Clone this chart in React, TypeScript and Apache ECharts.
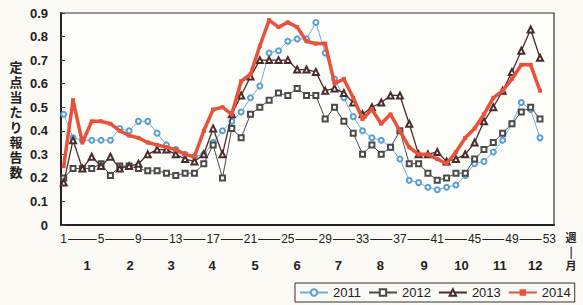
import React, { useEffect, useRef } from "react";
import * as echarts from "echarts";

const seriesNames = ["2011", "2012", "2013", "2014"];
const weekTicks = [1, 5, 9, 13, 17, 21, 25, 29, 33, 37, 41, 45, 49, 53];
const monthLabels = ["1", "2", "3", "4", "5", "6", "7", "8", "9", "10", "11", "12"];
const monthPositions = [3.5, 8.1, 12.5, 16.9, 21.5, 26, 30.4, 34.9, 39.6, 43.6, 47.7, 51.5];
const yTitle = "定点当たり報告数";
const unitChars = ["週", "|", "月"];

const v2011 = [
  0.47, 0.37, 0.36, 0.36, 0.36, 0.36, 0.41, 0.40, 0.44, 0.44,
  0.39, 0.34, 0.32, 0.30, 0.29, 0.30, 0.35, 0.40, 0.44, 0.48,
  0.54, 0.59, 0.73, 0.74, 0.78, 0.79, 0.79, 0.86, 0.73, 0.62,
  0.54, 0.46, 0.40, 0.37, 0.36, 0.33, 0.28, 0.19, 0.18, 0.16,
  0.15, 0.16, 0.17, 0.21, 0.26, 0.27, 0.31, 0.36, 0.43, 0.52, 0.49, 0.37,
];
const v2012 = [
  0.20, 0.24, 0.24, 0.24, 0.26, 0.21, 0.25, 0.25, 0.24, 0.23,
  0.23, 0.22, 0.21, 0.22, 0.22, 0.26, 0.34, 0.20, 0.41, 0.37,
  0.47, 0.50, 0.53, 0.56, 0.55, 0.58, 0.55, 0.55, 0.45, 0.50,
  0.44, 0.39, 0.30, 0.34, 0.30, 0.33, 0.40, 0.26, 0.26, 0.22,
  0.19, 0.20, 0.22, 0.22, 0.28, 0.32, 0.35, 0.39, 0.43, 0.48, 0.50, 0.45,
];
const v2013 = [
  0.18, 0.36, 0.24, 0.29, 0.25, 0.29, 0.24, 0.25, 0.26, 0.30,
  0.32, 0.32, 0.30, 0.28, 0.27, 0.30, 0.41, 0.30, 0.47, 0.55,
  0.63, 0.70, 0.70, 0.70, 0.70, 0.66, 0.66, 0.65, 0.57, 0.58,
  0.56, 0.52, 0.47, 0.50, 0.52, 0.55, 0.55, 0.43, 0.30, 0.30,
  0.31, 0.27, 0.28, 0.30, 0.35, 0.44, 0.50, 0.57, 0.65, 0.74, 0.83, 0.71,
];
const v2014 = [
  0.25, 0.53, 0.35, 0.44, 0.44, 0.43, 0.40, 0.38, 0.37, 0.35,
  0.34, 0.33, 0.32, 0.30, 0.29, 0.40, 0.49, 0.50, 0.47, 0.61,
  0.64, 0.76, 0.87, 0.84, 0.86, 0.84, 0.78, 0.77, 0.77, 0.60,
  0.62, 0.54, 0.45, 0.49, 0.43, 0.47, 0.40, 0.33, 0.30, 0.30,
  0.28, 0.26, 0.31, 0.37, 0.41, 0.47, 0.54, 0.57, 0.62, 0.68, 0.68, 0.57,
];

const BG = "#fbfaf4";
const FONT = "'Liberation Sans', Arial, sans-serif";
const CJK = "'Noto Sans CJK JP', sans-serif";

function toPoints(vals: number[]) {
  return vals.map((v, i) => [i + 1, v]);
}

export default function App() {
  const ref = useRef<HTMLDivElement>(null);
  useEffect(() => {
    if (!ref.current) return;
    const chart = echarts.init(ref.current, undefined, { renderer: "svg" });
    const xBase = { type: "value", min: 0.71, max: 53.5, gridIndex: 0, splitLine: { show: false } };
    const titleTexts = yTitle.split("").map((ch, i) => ({
      type: "text",
      x: 16,
      y: 66 + i * 15,
      style: {
        text: ch,
        fontSize: 13,
        fontWeight: "bold",
        fill: "#222",
        align: "center",
        verticalAlign: "middle",
        fontFamily: CJK,
      },
    }));
    const unitTexts = unitChars.map((ch, i) => ({
      type: "text",
      x: 571,
      y: 237 + i * 14,
      style: {
        text: ch,
        fontSize: 11,
        fontWeight: "bold",
        fill: "#222",
        align: "center",
        verticalAlign: "middle",
        fontFamily: CJK,
      },
    }));
    chart.setOption({
      animation: false,
      backgroundColor: BG,
      textStyle: { fontFamily: FONT },
      grid: {
        left: 61, right: 29, top: 13, bottom: 80,
        show: true, borderColor: "#333", borderWidth: 1.2, backgroundColor: "#fdfdf9",
      },
      xAxis: [
        {
          ...xBase,
          position: "bottom",
          axisLine: { show: true, lineStyle: { color: "#222", width: 2 } },
          axisTick: { show: false },
          axisLabel: { show: false },
        },
        {
          ...xBase,
          position: "bottom",
          offset: 14,
          axisLine: { show: true, onZero: false, lineStyle: { color: "#222", width: 1.2 } },
          axisTick: { show: false },
          axisLabel: {
            customValues: weekTicks,
            margin: 0,
            verticalAlign: "middle",
            color: "#222",
            fontSize: 12,
            fontFamily: FONT,
            backgroundColor: BG,
            padding: [0, 1],
            formatter: (v: number) => String(Math.round(v)),
          },
        },
        {
          ...xBase,
          position: "bottom",
          offset: 40,
          axisLine: { show: false },
          axisTick: { show: false },
          axisLabel: {
            customValues: monthPositions,
            margin: 0,
            verticalAlign: "middle",
            color: "#222",
            fontSize: 13,
            fontWeight: "bold",
            fontFamily: FONT,
            formatter: (v: number) => {
              const i = monthPositions.findIndex((p) => Math.abs(p - v) < 1e-6);
              return i >= 0 ? monthLabels[i] : "";
            },
          },
        },
      ],
      yAxis: {
        type: "value",
        min: 0,
        max: 0.9,
        interval: 0.1,
        axisLine: { show: true, lineStyle: { color: "#222", width: 2 } },
        axisTick: { show: true, inside: true, length: 4, lineStyle: { color: "#444" } },
        splitLine: { show: false },
        axisLabel: { color: "#222", fontSize: 13, fontWeight: "bold", margin: 13, fontFamily: FONT },
      },
      legend: {
        data: seriesNames,
        left: 295,
        right: 0,
        top: 283,
        padding: [3, 4],
        itemGap: 7,
        itemWidth: 28,
        itemHeight: 8,
        borderColor: "#333",
        borderWidth: 1,
        backgroundColor: BG,
        textStyle: { color: "#222", fontSize: 13, fontFamily: FONT },
      },
      graphic: [...titleTexts, ...unitTexts],
      series: [
        {
          name: "2011", type: "line", data: toPoints(v2011),
          symbol: "emptyCircle", symbolSize: 5,
          lineStyle: { color: "#6eaed8", width: 1 },
          itemStyle: { color: "#5a9fd0", borderWidth: 1.2 },
          z: 2,
        },
        {
          name: "2012", type: "line", data: toPoints(v2012),
          symbol: "emptyRect", symbolSize: 5,
          lineStyle: { color: "#4a4a4a", width: 1 },
          itemStyle: { color: "#4a4a4a", borderWidth: 1.2 },
          z: 3,
        },
        {
          name: "2013", type: "line", data: toPoints(v2013),
          symbol: "emptyTriangle", symbolSize: 6,
          lineStyle: { color: "#4a2c2c", width: 1.3 },
          itemStyle: { color: "#4a2c2c", borderWidth: 1.2 },
          z: 4,
        },
        {
          name: "2014", type: "line", data: toPoints(v2014),
          symbol: "rect", symbolSize: 4,
          lineStyle: { color: "#e8523c", width: 3.5 },
          itemStyle: { color: "#e8523c" },
          z: 5,
        },
      ],
    });
    return () => chart.dispose();
  }, []);
  return (
    <div
      ref={ref}
      style={{ position: "absolute", left: 0, top: 0, width: 583, height: 305 }}
    />
  );
}
